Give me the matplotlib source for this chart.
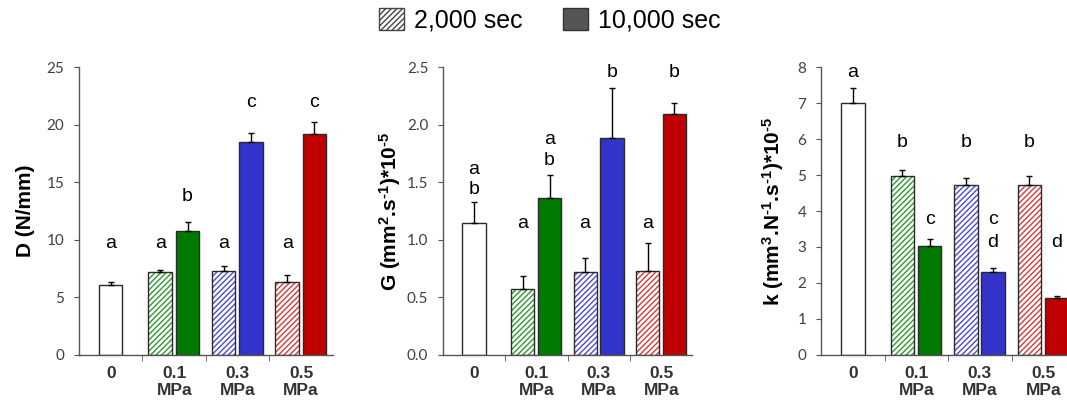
import matplotlib
matplotlib.use("Agg")
import matplotlib.pyplot as plt
from matplotlib.patches import Patch
import numpy as np

# data
groups = ["0", "0.1\nMPa", "0.3\nMPa", "0.5\nMPa"]

# control (0 MPa) values
D_ctrl, D_ctrl_err = 6.1, 0.22
G_ctrl, G_ctrl_err = 1.15, 0.18
k_ctrl, k_ctrl_err = 7.0, 0.42

# 2,000 sec (hatched) and 10,000 sec (solid) for 0.1, 0.3, 0.5 MPa
D_2000 = [7.2, 7.3, 6.3]
D_2000_err = [0.18, 0.4, 0.65]
D_10000 = [10.8, 18.5, 19.2]
D_10000_err = [0.75, 0.8, 1.0]

G_2000 = [0.57, 0.72, 0.73]
G_2000_err = [0.12, 0.12, 0.24]
G_10000 = [1.36, 1.88, 2.09]
G_10000_err = [0.2, 0.44, 0.1]

k_2000 = [4.97, 4.71, 4.72]
k_2000_err = [0.18, 0.21, 0.24]
k_10000 = [3.04, 2.30, 1.57]
k_10000_err = [0.18, 0.13, 0.07]

# significance letters: (x position, y value, text)
D_letters = [(0, 9.7, "a"), (0.78, 9.7, "a"), (1.21, 13.8, "b"), (1.78, 9.7, "a"),
             (2.21, 21.9, "c"), (2.78, 9.7, "a"), (3.21, 21.9, "c")]
G_letters = [(0, 1.61, "a"), (0, 1.44, "b"), (0.78, 1.14, "a"), (1.21, 1.87, "a"),
             (1.21, 1.69, "b"), (1.78, 1.14, "a"), (2.21, 2.45, "b"), (2.78, 1.14, "a"),
             (3.21, 2.45, "b")]
k_letters = [(0, 7.85, "a"), (0.78, 5.89, "b"), (1.21, 3.77, "c"), (1.78, 5.89, "b"),
             (2.21, 3.77, "c"), (2.21, 3.12, "d"), (2.78, 5.89, "b"), (3.21, 3.12, "d")]

solid_colors = ["#007A00", "#3333CC", "#C00000"]
hatch_colors = ["#2E9A2E", "#4A4AD8", "#D83A3A"]
edge = "#2a2a2a"

plt.rcParams["hatch.linewidth"] = 1.0
# superscripts in the axis labels in bold Liberation Sans too
plt.rcParams["mathtext.fontset"] = "custom"
plt.rcParams["mathtext.rm"] = "Liberation Sans:bold"
plt.rcParams["mathtext.bf"] = "Liberation Sans:bold"
plt.rcParams["mathtext.it"] = "Liberation Sans:bold"

fig = plt.figure(figsize=(10.67, 4.05), dpi=100)

bar_w = 0.37
x_grp = np.array([1, 2, 3])
hy = "\u2010"  # plain hyphen in the exponents instead of a minus sign


def panel(ax, ctrl, ctrl_err, v2000, e2000, v10000, e10000, letters,
          ylim, yticks, ylabel, fmt, label_x):
    # control bar
    ax.bar(0, ctrl, bar_w, color="white", edgecolor=edge, linewidth=1.0, zorder=2)
    ax.errorbar(0, ctrl, yerr=[[0], [ctrl_err]], fmt="none", ecolor="black",
                elinewidth=1.0, capsize=2.5, capthick=1.0, zorder=3)
    for i in range(3):
        xh = x_grp[i] - 0.22
        xs = x_grp[i] + 0.21
        # hatched bar: hatch in colour, then dark outline on top
        ax.bar(xh, v2000[i], bar_w, color="white", edgecolor=hatch_colors[i],
               hatch="//////", linewidth=0, zorder=2)
        ax.bar(xh, v2000[i], bar_w, fill=False, edgecolor=edge, linewidth=1.0, zorder=2)
        ax.errorbar(xh, v2000[i], yerr=[[0], [e2000[i]]], fmt="none", ecolor="black",
                    elinewidth=1.0, capsize=2.5, capthick=1.0, zorder=3)
        ax.bar(xs, v10000[i], bar_w, color=solid_colors[i], edgecolor=edge,
               linewidth=1.0, zorder=2)
        ax.errorbar(xs, v10000[i], yerr=[[0], [e10000[i]]], fmt="none", ecolor="black",
                    elinewidth=1.0, capsize=2.5, capthick=1.0, zorder=3)

    for x, y, t in letters:
        ax.text(x, y, t, ha="center", va="center", fontsize=14,
                family="Liberation Sans", color="black")

    ax.set_xlim(-0.5, 3.5)
    ax.set_ylim(ylim)
    ax.set_yticks(yticks)
    ax.set_yticklabels([fmt % v for v in yticks], family="Lato", fontsize=11,
                       color="#404040")
    ax.set_xticks([0, 1, 2, 3])
    ax.set_xticklabels(groups, family="Liberation Sans", fontweight="bold",
                       fontsize=12.5, color="#333333", linespacing=1.2)
    ax.set_xticks([0.5, 1.5, 2.5], minor=True)
    ax.tick_params(axis="x", which="major", length=0, pad=8)
    ax.tick_params(axis="x", which="minor", length=4, color="#555555", direction="out")
    ax.tick_params(axis="y", length=3.5, color="#555555", direction="out", pad=7)
    for s in ["top", "right"]:
        ax.spines[s].set_visible(False)
    for s in ["left", "bottom"]:
        ax.spines[s].set_color("#555555")
        ax.spines[s].set_linewidth(1.0)
    ax.set_ylabel(ylabel, family="Liberation Sans", fontweight="bold", fontsize=15)
    ax.yaxis.set_label_coords(label_x, 0.5)


ax1 = fig.add_axes([0.074, 0.1235, 0.238, 0.711])
panel(ax1, D_ctrl, D_ctrl_err, D_2000, D_2000_err, D_10000, D_10000_err, D_letters,
      (0, 25), [0, 5, 10, 15, 20, 25], "D (N/mm)", "%d", -0.175)

ax2 = fig.add_axes([0.415, 0.1235, 0.234, 0.711])
panel(ax2, G_ctrl, G_ctrl_err, G_2000, G_2000_err, G_10000, G_10000_err, G_letters,
      (0, 2.5), [0.0, 0.5, 1.0, 1.5, 2.0, 2.5],
      "G (mm$^{2}$.s$^{" + hy + "1}$)*10$^{" + hy + "5}$", "%.1f", -0.16)

ax3 = fig.add_axes([0.7695, 0.1235, 0.238, 0.711])
panel(ax3, k_ctrl, k_ctrl_err, k_2000, k_2000_err, k_10000, k_10000_err, k_letters,
      (0, 8), [0, 1, 2, 3, 4, 5, 6, 7, 8],
      "k (mm$^{3}$.N$^{" + hy + "1}$.s$^{" + hy + "1}$)*10$^{" + hy + "5}$", "%d", -0.14)

handles = [Patch(facecolor="white", edgecolor="#444444", hatch="//////", linewidth=1.0),
           Patch(facecolor="#555555", edgecolor="#333333", linewidth=1.0)]
fig.legend(handles, ["2,000 sec", "10,000 sec"], loc="upper center",
           bbox_to_anchor=(0.515, 1.0), ncol=2, frameon=False,
           prop={"family": "Liberation Sans", "size": 18}, borderaxespad=0.1,
           borderpad=0.2, handlelength=1.0, handleheight=1.0, handletextpad=0.4,
           columnspacing=1.6)

fig.savefig("out.png", dpi=100)
